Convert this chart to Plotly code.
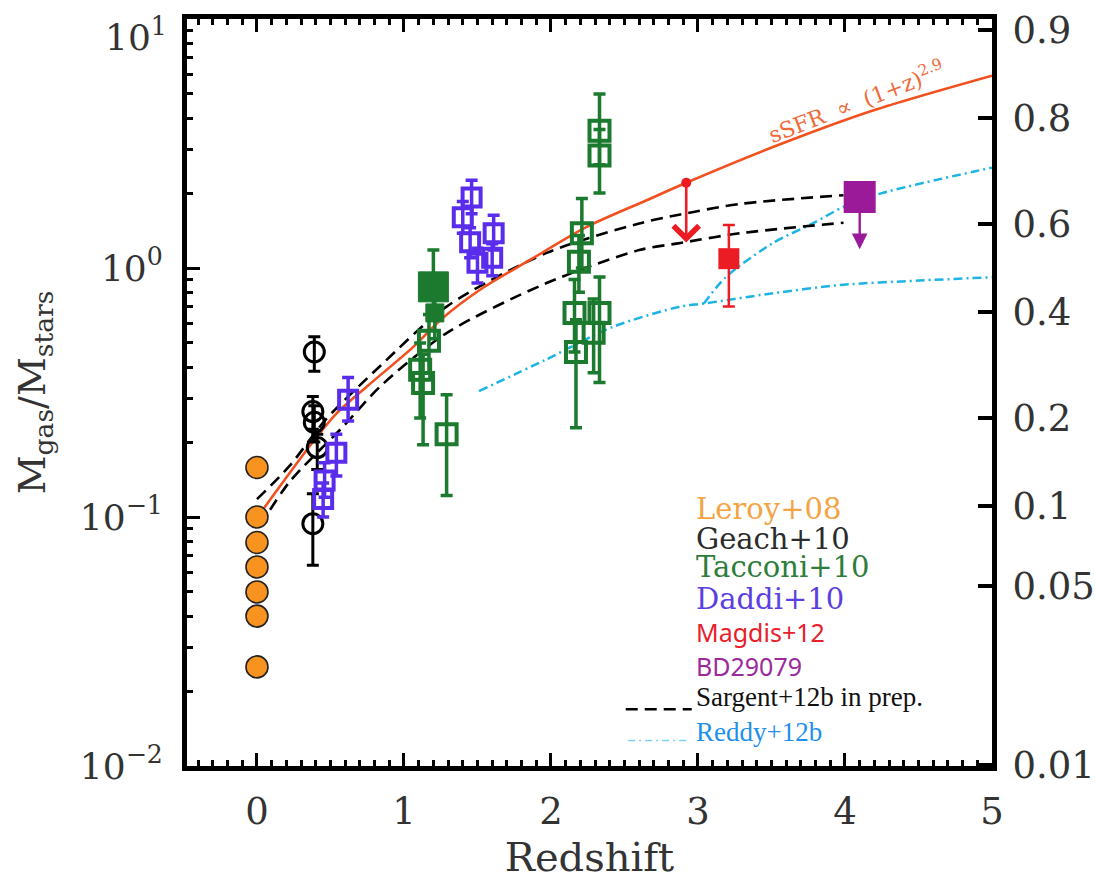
import numpy as np
import plotly.graph_objects as go

# ---------------- data ----------------
# Leroy+08 (z = 0)
leroy_z = [0.0, 0.0, 0.0, 0.0, 0.0, 0.0, 0.0]
leroy_r = [0.158, 0.100, 0.079, 0.063, 0.050, 0.040, 0.025]

# Geach+10
geach_z = [0.39, 0.38, 0.39, 0.41, 0.38]
geach_r = [0.46, 0.265, 0.24, 0.19, 0.094]
geach_hi = [0.53, 0.305, 0.28, 0.215, 0.124]
geach_lo = [0.385, 0.225, 0.20, 0.155, 0.064]

# Daddi+10
daddi_z = [0.62, 0.54, 0.46, 0.45, 1.46, 1.40, 1.45, 1.50, 1.61, 1.60]
daddi_r = [0.296, 0.181, 0.14, 0.118, 1.92, 1.60, 1.27, 1.05, 1.38, 1.10]
daddi_hi = [0.363, 0.215, 0.165, 0.137, 2.25, 1.85, 1.45, 1.20, 1.63, 1.25]
daddi_lo = [0.243, 0.146, 0.12, 0.10, 1.65, 1.38, 1.10, 0.87, 1.18, 0.93]

# Tacconi+10 (open)
tacc_z = [1.11, 1.13, 1.17, 1.29, 2.21, 2.19, 2.16, 2.17, 2.33, 2.33, 2.33, 2.29]
tacc_r = [0.39, 0.345, 0.51, 0.215, 1.38, 1.06, 0.66, 0.46, 3.56, 2.83, 0.66, 0.55]
tacc_hi = [0.50, 0.45, 0.65, 0.31, 1.90, 1.35, 0.90, 0.62, 5.00, 3.60, 0.92, 0.75]
tacc_lo = [0.25, 0.195, 0.38, 0.122, 1.00, 0.80, 0.46, 0.228, 2.60, 2.00, 0.347, 0.38]

# Tacconi+10 (filled)
taccf_z = [1.20, 1.21]
taccf_r = [0.84, 0.66]
taccf_hi = [1.18, 0.80]
taccf_lo = [0.62, 0.52]
taccf_size = [30, 18]

# Magdis+12
magdis_z = [3.21]
magdis_r = [1.09]
magdis_hi = [1.49]
magdis_lo = [0.70]
magdis_lim_z = [2.92]
magdis_lim_r = [2.20]

# BD29079 (upper limit)
bd_z = [4.10]
bd_r = [1.93]

# sSFR ∝ (1+z)^2.9 track
ssfr_z = [0.03, 0.38, 0.54, 0.75, 1.06, 1.25, 1.52, 1.86, 2.24, 2.65, 2.92, 3.51, 4.19, 5.0]
ssfr_r = [0.105, 0.20, 0.26, 0.335, 0.48, 0.62, 0.82, 1.08, 1.46, 1.87, 2.20, 3.06, 4.29, 5.92]

# Sargent+12b tracks
sarg_up_z = [0.0, 0.22, 0.47, 0.84, 1.29, 1.97, 2.60, 2.88, 3.29, 3.99]
sarg_up_r = [0.118, 0.16, 0.247, 0.405, 0.70, 1.15, 1.51, 1.64, 1.81, 1.96]
sarg_lo_z = [0.02, 0.22, 0.59, 0.84, 1.29, 1.97, 2.60, 2.88, 3.29, 3.99]
sarg_lo_r = [0.092, 0.138, 0.232, 0.335, 0.548, 0.87, 1.18, 1.26, 1.38, 1.52]

# Reddy+12b tracks
reddy_a_z = [1.51, 1.97, 2.42, 2.88, 3.04, 3.5, 3.97, 4.5, 5.0]
reddy_a_r = [0.32, 0.43, 0.58, 0.70, 0.72, 0.79, 0.855, 0.89, 0.918]
reddy_b_z = [3.04, 3.19, 3.51, 3.78, 3.99, 4.24, 5.0]
reddy_b_r = [0.72, 0.92, 1.26, 1.51, 1.76, 1.99, 2.53]

# axis labels (the top decade label is placed as an annotation so it stays on the canvas)
y_tickvals = [0.01, 0.1, 1, 10]
y_ticktext = ["10<sup>−2</sup>", "10<sup>−1</sup>", "10<sup>0</sup>", ""]
y_top_label = "10<sup>1</sup>"
f_ticks = [0.9, 0.8, 0.6, 0.4, 0.2, 0.1, 0.05, 0.01]
f_labels = ["0.9", "0.8", "0.6", "0.4", "0.2", "0.1", "0.05", "0.01"]
x_ticks = [0, 1, 2, 3, 4, 5]

# ---------------- styles ----------------
ORANGE = "#F7931E"
TACC = "#1B7A2E"
DADDI = "#5A2CEB"
MAGDIS = "#EC1C24"
BDC = "#9A1A9A"
SSFR = "#F2501E"
REDDY = "#1CB4E4"
SERIF = "DejaVu Serif"
TXT = "#333333"
ARROW_DEX = 0.24


def errs(v, hi, lo):
    v = np.asarray(v)
    return np.asarray(hi) - v, v - np.asarray(lo)


fig = go.Figure()

# model tracks
for zz, rr in [(reddy_a_z, reddy_a_r), (reddy_b_z, reddy_b_r)]:
    fig.add_trace(go.Scatter(x=zz, y=rr, mode="lines",
                             line=dict(color=REDDY, width=2.5, dash="9px,4px,2px,4px",
                                       shape="spline", smoothing=0.8)))
for zz, rr in [(sarg_up_z, sarg_up_r), (sarg_lo_z, sarg_lo_r)]:
    fig.add_trace(go.Scatter(x=zz, y=rr, mode="lines",
                             line=dict(color="black", width=2.6, dash="12px,7px",
                                       shape="spline", smoothing=0.8)))
fig.add_trace(go.Scatter(x=ssfr_z, y=ssfr_r, mode="lines",
                         line=dict(color=SSFR, width=2.6, shape="spline", smoothing=0.8)))

# Leroy+08
fig.add_trace(go.Scatter(x=leroy_z, y=leroy_r, mode="markers",
                         marker=dict(symbol="circle", size=22, color=ORANGE, opacity=1,
                                     line=dict(color="#222", width=1.6))))

# Geach+10
up, dn = errs(geach_r, geach_hi, geach_lo)
fig.add_trace(go.Scatter(x=geach_z, y=geach_r, mode="markers",
                         error_y=dict(type="data", array=up, arrayminus=dn, color="black",
                                      thickness=3, width=6),
                         marker=dict(symbol="circle-open", size=20, color="black", opacity=1,
                                     line=dict(color="black", width=3))))

# Tacconi+10
up, dn = errs(tacc_r, tacc_hi, tacc_lo)
fig.add_trace(go.Scatter(x=tacc_z, y=tacc_r, mode="markers",
                         error_y=dict(type="data", array=up, arrayminus=dn, color=TACC,
                                      thickness=3.5, width=6),
                         marker=dict(symbol="square-open", size=20, color=TACC, opacity=1,
                                     line=dict(color=TACC, width=4))))
up, dn = errs(taccf_r, taccf_hi, taccf_lo)
fig.add_trace(go.Scatter(x=taccf_z, y=taccf_r, mode="markers",
                         error_y=dict(type="data", array=up, arrayminus=dn, color=TACC,
                                      thickness=3.5, width=6),
                         marker=dict(symbol="square", size=taccf_size, color=TACC, opacity=1,
                                     line=dict(color=TACC, width=1))))

# Daddi+10
up, dn = errs(daddi_r, daddi_hi, daddi_lo)
fig.add_trace(go.Scatter(x=daddi_z, y=daddi_r, mode="markers",
                         error_y=dict(type="data", array=up, arrayminus=dn, color=DADDI,
                                      thickness=3.5, width=6),
                         marker=dict(symbol="square-open", size=18, color=DADDI, opacity=1,
                                     line=dict(color=DADDI, width=4))))

# Magdis+12
up, dn = errs(magdis_r, magdis_hi, magdis_lo)
fig.add_trace(go.Scatter(x=magdis_z, y=magdis_r, mode="markers",
                         error_y=dict(type="data", array=up, arrayminus=dn, color=MAGDIS,
                                      thickness=2.5, width=6),
                         marker=dict(symbol="square", size=21, color=MAGDIS, opacity=1)))
fig.add_trace(go.Scatter(x=magdis_lim_z, y=magdis_lim_r, mode="markers",
                         marker=dict(symbol="circle", size=10, color=MAGDIS, opacity=1)))

# BD29079
fig.add_trace(go.Scatter(x=bd_z, y=bd_r, mode="markers",
                         marker=dict(symbol="square", size=32, color=BDC, opacity=1)))

annotations = []
# upper-limit arrows
for zz, rr in zip(magdis_lim_z, magdis_lim_r):
    annotations.append(dict(x=zz, y=np.log10(rr) - ARROW_DEX, ax=zz, ay=np.log10(rr),
                            xref="x", yref="y", axref="x", ayref="y", text="",
                            showarrow=True, arrowhead=4, arrowsize=1.9, arrowwidth=2.6,
                            arrowcolor=MAGDIS, standoff=0, startstandoff=0))
for zz, rr in zip(bd_z, bd_r):
    annotations.append(dict(x=zz, y=np.log10(rr) - ARROW_DEX + 0.03, ax=zz, ay=np.log10(rr),
                            xref="x", yref="y", axref="x", ayref="y", text="",
                            showarrow=True, arrowhead=2, arrowsize=1.3, arrowwidth=2.4,
                            arrowcolor=BDC, standoff=0, startstandoff=0))

# top decade label of the left axis
annotations.append(dict(x=-0.022, y=0.978, xref="paper", yref="paper", xanchor="right",
                        yanchor="middle", showarrow=False, text=y_top_label,
                        font=dict(family=SERIF, size=36, color=TXT)))

# track label
annotations.append(dict(x=4.08, y=0.890, xref="x", yref="paper", showarrow=False,
                        xanchor="center", yanchor="middle",
                        text="sSFR  ∝  (1+z)<sup>2.9</sup>", textangle=-21,
                        font=dict(family=SERIF, size=22, color="#F06A3A")))

# legend text
legend_items = [
    ("Leroy+08", "#F4A443", SERIF, 29, 0.344),
    ("Geach+10", "#2b2b2b", SERIF, 29, 0.304),
    ("Tacconi+10", "#2E7D3A", SERIF, 29, 0.267),
    ("Daddi+10", "#5B3FE3", SERIF, 29, 0.224),
    ("Magdis+12", "#E8202A", "Noto Sans", 25, 0.179),
    ("BD29079", "#9C2A9C", "Noto Sans", 25, 0.134),
    ("Sargent+12b in prep.", "#111111", "Liberation Serif", 27, 0.093),
    ("Reddy+12b", "#1E8FEA", "Liberation Serif", 27, 0.046),
]
for txt, col, fam, sz, yp in legend_items:
    annotations.append(dict(x=2.97, y=yp, xref="x", yref="paper", xanchor="left",
                            yanchor="middle", showarrow=False, text=txt,
                            font=dict(family=fam, size=sz, color=col)))

shapes = [
    dict(type="line", xref="paper", yref="paper", x0=0.545, x1=0.627, y0=0.076, y1=0.076,
         line=dict(color="black", width=2.5, dash="12px,7px")),
    dict(type="line", xref="paper", yref="paper", x0=0.548, x1=0.625, y0=0.034, y1=0.034,
         line=dict(color="#7FD0EE", width=1.5, dash="7px,4px,2px,4px")),
]

minor_y = [m * 10.0 ** e for e in (-2, -1, 0) for m in range(2, 10)]
minor_x = [round(i * 0.1, 1) for i in range(-4, 51) if i % 10 != 0]
f_vals = [f / (1 - f) for f in f_ticks]

xax_common = dict(range=[-0.476, 5.0], tickvals=x_ticks,
                  ticks="inside", ticklen=13, tickwidth=3, tickcolor="black",
                  minor=dict(tickvals=minor_x, ticks="inside", ticklen=6, tickwidth=2.5,
                             tickcolor="black", showgrid=False),
                  showline=True, linewidth=5, linecolor="black",
                  showgrid=False, zeroline=False, automargin=False)

fig.update_layout(
    width=1095, height=883,
    margin=dict(l=187, r=103, t=19, b=117),
    paper_bgcolor="white", plot_bgcolor="white",
    showlegend=False,
    annotations=annotations, shapes=shapes,
    xaxis=dict(**xax_common, ticktext=[str(t) for t in x_ticks], ticklabelstandoff=9,
               tickfont=dict(family=SERIF, size=37, color=TXT),
               title=dict(text="Redshift", font=dict(family=SERIF, size=40, color=TXT),
                          standoff=12)),
    xaxis2=dict(**xax_common, overlaying="x", side="top", showticklabels=False),
    yaxis=dict(type="log", range=[-2, 1], tickvals=y_tickvals, ticktext=y_ticktext,
               ticks="inside", ticklen=13, tickwidth=3, tickcolor="black",
               minor=dict(tickvals=minor_y, ticks="inside", ticklen=6, tickwidth=3,
                          tickcolor="black", showgrid=False),
               showline=True, linewidth=5, linecolor="black", mirror=False,
               showgrid=False, zeroline=False, ticklabelstandoff=12,
               ticklabeloverflow="allow", automargin=False,
               tickfont=dict(family=SERIF, size=36, color=TXT),
               title=dict(text="M<sub>gas</sub>/M<sub>stars</sub>",
                          font=dict(family=SERIF, size=38, color=TXT), standoff=24)),
    yaxis2=dict(type="log", range=[-2, 1], overlaying="y", side="right",
                tickvals=f_vals, ticktext=f_labels,
                ticks="inside", ticklen=14, tickwidth=4, tickcolor="black",
                showline=True, linewidth=5, linecolor="black",
                showgrid=False, zeroline=False, ticklabelstandoff=8,
                ticklabeloverflow="allow", automargin=False,
                tickfont=dict(family=SERIF, size=37, color=TXT)),
)

# empty traces so the top and right axes are rendered
fig.add_trace(go.Scatter(x=[None], y=[None], yaxis="y2", showlegend=False))
fig.add_trace(go.Scatter(x=[None], y=[None], xaxis="x2", showlegend=False))

fig.write_html("out.html")
